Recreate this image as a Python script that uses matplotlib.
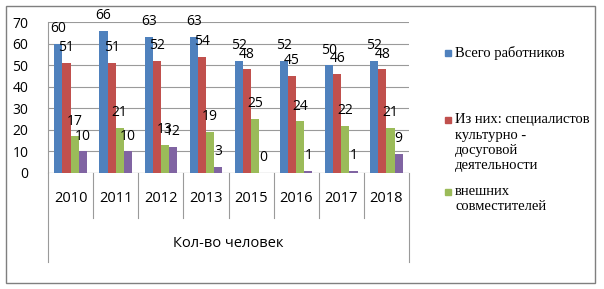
import numpy as np
import matplotlib
matplotlib.use('Agg')
import matplotlib.pyplot as plt
from matplotlib.patches import Rectangle

# данные с диаграммы
years = ['2010', '2011', '2012', '2013', '2015', '2016', '2017', '2018']
total = [60, 66, 63, 63, 52, 52, 50, 52]
specialists = [51, 51, 52, 54, 48, 45, 46, 48]
external = [17, 21, 13, 19, 25, 24, 22, 21]
fourth = [10, 10, 12, 3, 0, 1, 1, 9]

legend_names = ['Всего работников',
                'Из них: специалистов\nкультурно -\nдосуговой\nдеятельности',
                'внешних\nсовместителей']
colors = ['#4F81BD', '#C0504D', '#9BBB59', '#8064A2']

plt.rcParams['font.family'] = ['Open Sans', 'DejaVu Sans']

W, H = 604, 289
fig = plt.figure(figsize=(W / 100, H / 100), dpi=100)
# оси в пикселях: x 48..409, y 22..173 (сверху)
ax = fig.add_axes([48 / W, 1 - 173 / H, (409 - 48) / W, (173 - 22) / H])

x = np.arange(len(years))
bw = 0.18
series = [total, specialists, external, fourth]
for k, vals in enumerate(series):
    bars = ax.bar(x + (k - 1.5) * bw, vals, bw, color=colors[k], zorder=3)
    for b, v in zip(bars, vals):
        ax.annotate(str(v), (b.get_x() + b.get_width() / 2, v),
                    xytext=(0, 5.5), textcoords='offset points',
                    ha='center', va='bottom', fontsize=10, zorder=4)

ax.set_xlim(-0.5, len(years) - 0.5)
ax.set_ylim(0, 70)
ax.set_yticks(range(0, 71, 10))
ax.yaxis.grid(True, color='#9a9a9a', linewidth=0.8, zorder=0)
ax.tick_params(axis='y', length=0, pad=14, labelsize=10)
ax.tick_params(axis='x', length=0, labelbottom=False)
for s in ['top', 'right', 'bottom']:
    ax.spines[s].set_visible(False)
ax.spines['left'].set_color('#9a9a9a')
ax.axhline(0, color='#9a9a9a', linewidth=0.8, zorder=2)

# многоуровневая ось категорий
tr = ax.get_xaxis_transform()
line_kw = dict(color='#9a9a9a', linewidth=0.8, transform=tr, clip_on=False)
for i in range(1, len(years)):
    ax.plot([i - 0.5, i - 0.5], [0, -0.298], **line_kw)
for edge in [-0.5, len(years) - 0.5]:
    ax.plot([edge, edge], [0, -0.589], **line_kw)
for i, yr in enumerate(years):
    ax.text(i, -0.172, yr, transform=tr, ha='center', va='center', fontsize=10.5)
ax.text((len(years) - 1) / 2, -0.464, 'Кол-во человек', transform=tr,
        ha='center', va='center', fontsize=10.5)

# легенда
leg_y = [53, 120, 192]
for name, c, yy in zip(legend_names, colors, leg_y):
    fig.patches.append(Rectangle((445 / W, 1 - (yy + 3) / H), 6 / W, 6 / H,
                                 color=c, transform=fig.transFigure))
    fig.text(455 / W, 1 - (yy - 7) / H, name, family=['Liberation Serif'],
             fontsize=10.5, va='top', ha='left', linespacing=1.25)

# рамка
fig.patches.append(Rectangle((6 / W, 1 - 283 / H), (595 - 6) / W, (283 - 6) / H,
                             fill=False, edgecolor='#7f7f7f', linewidth=1,
                             transform=fig.transFigure))

fig.savefig('out.png', dpi=100)
